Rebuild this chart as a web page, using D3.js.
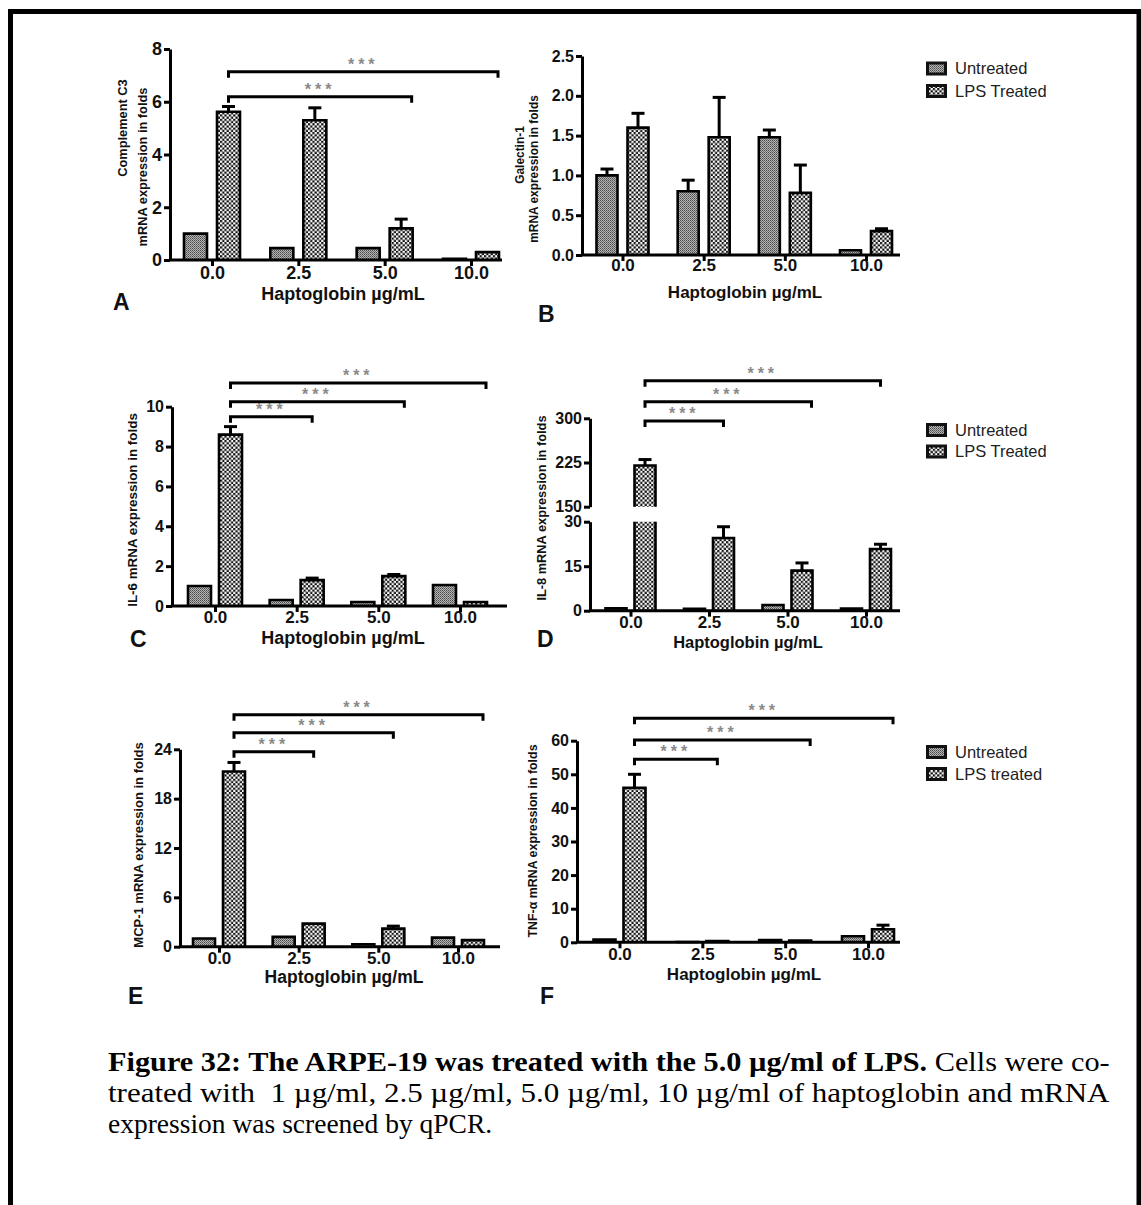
<!DOCTYPE html>
<html><head><meta charset="utf-8">
<script src="https://cdn.jsdelivr.net/npm/d3@7"></script>
<style>
html,body{margin:0;padding:0;background:#fff;}
svg{display:block;}
</style></head>
<body>
<svg id="chart" width="1141" height="1205"></svg>
<script>
// ---------------- DATA ----------------
const categories = ["0.0", "2.5", "5.0", "10.0"];
const seriesNames = ["Untreated", "LPS Treated"];
const seriesNamesF = ["Untreated", "LPS treated"];
const xTitle = "Haptoglobin \u00b5g/mL";
const sigLabel = "***";

// A: Complement C3
const c3Untreated    = [1.0, 0.45, 0.45, 0.05];
const c3UntreatedErr = [0.03, 0.02, 0.02, 0.01];
const c3Lps          = [5.62, 5.3, 1.2, 0.3];
const c3LpsErr       = [0.2, 0.47, 0.35, 0.03];
const c3Ticks        = [0, 2, 4, 6, 8];
const c3Sig          = [["0.0", "5.0", 6.19], ["0.0", "10.0", 7.14]];

// B: Galectin-1
const gal1Untreated    = [1.0, 0.8, 1.48, 0.06];
const gal1UntreatedErr = [0.08, 0.14, 0.09, 0.01];
const gal1Lps          = [1.6, 1.48, 0.78, 0.3];
const gal1LpsErr       = [0.18, 0.5, 0.35, 0.03];
const gal1Ticks        = [0, 0.5, 1.0, 1.5, 2.0, 2.5];
const gal1Sig          = [];

// C: IL-6
const il6Untreated    = [1.0, 0.3, 0.2, 1.05];
const il6UntreatedErr = [0.03, 0.03, 0.03, 0.03];
const il6Lps          = [8.6, 1.3, 1.5, 0.2];
const il6LpsErr       = [0.4, 0.1, 0.08, 0.05];
const il6Ticks        = [0, 2, 4, 6, 8, 10];
const il6Sig          = [["0.0", "2.5", 9.5], ["0.0", "5.0", 10.25], ["0.0", "10.0", 11.19]];

// D: IL-8 (broken axis)
const il8Untreated    = [0.8, 0.6, 1.9, 0.7];
const il8UntreatedErr = [0.1, 0.1, 0.2, 0.1];
const il8Lps          = [220, 24.5, 13.5, 20.8];
const il8LpsErr       = [10, 3.8, 2.6, 1.6];
const il8TicksLow     = [0, 15, 30];
const il8TicksHigh    = [150, 225, 300];
const il8Sig          = [["0.0", "2.5", 295.4], ["0.0", "5.0", 328.2], ["0.0", "10.0", 363.8]];

// E: MCP-1
const mcp1Untreated    = [1.0, 1.2, 0.3, 1.1];
const mcp1UntreatedErr = [0.05, 0.05, 0.05, 0.05];
const mcp1Lps          = [21.3, 2.8, 2.2, 0.8];
const mcp1LpsErr       = [1.1, 0.1, 0.3, 0.1];
const mcp1Ticks        = [0, 6, 12, 18, 24];
const mcp1Sig          = [["0.0", "2.5", 23.7], ["0.0", "5.0", 26.0], ["0.0", "10.0", 28.2]];

// F: TNF-alpha
const tnfUntreated    = [0.8, 0.1, 0.7, 1.8];
const tnfUntreatedErr = [0.1, 0.05, 0.1, 0.2];
const tnfLps          = [46, 0.4, 0.5, 3.9];
const tnfLpsErr       = [4, 0.1, 0.1, 1.2];
const tnfTicks        = [0, 10, 20, 30, 40, 50, 60];
const tnfSig          = [["0.0", "2.5", 54.5], ["0.0", "5.0", 60.2], ["0.0", "10.0", 66.7]];

const captionBold = "Figure 32: The ARPE-19 was treated with the 5.0 \u00b5g/ml of LPS.";
const captionLines = [
  " Cells were co-",
  "treated with  1 \u00b5g/ml, 2.5 \u00b5g/ml, 5.0 \u00b5g/ml, 10 \u00b5g/ml of haptoglobin and mRNA",
  "expression was screened by qPCR."
];

// ---------------- LAYOUT ----------------
const SANS = "'Liberation Sans', Arial, Helvetica, sans-serif";
const SERIF = "'Liberation Serif', 'Times New Roman', Times, serif";
const svg = d3.select("#chart");

// frame
svg.append("rect").attr("x", 10.5).attr("y", 11.5).attr("width", 1128.5).attr("height", 1400)
  .attr("fill", "none").attr("stroke", "#000").attr("stroke-width", 5);

// patterns
const defs = svg.append("defs");
const pU = defs.append("pattern").attr("id", "patU").attr("patternUnits", "userSpaceOnUse")
  .attr("width", 2).attr("height", 2);
pU.append("rect").attr("width", 2).attr("height", 2).attr("fill", "#b4b4b4");
pU.append("rect").attr("width", 1).attr("height", 1).attr("fill", "#4a4a4a");
pU.append("rect").attr("x", 1).attr("y", 1).attr("width", 1).attr("height", 1).attr("fill", "#6e6e6e");
const pL = defs.append("pattern").attr("id", "patL").attr("patternUnits", "userSpaceOnUse")
  .attr("width", 4.4).attr("height", 4.4);
pL.append("rect").attr("width", 4.4).attr("height", 4.4).attr("fill", "#fff");
pL.append("rect").attr("width", 2.2).attr("height", 2.2).attr("fill", "#111");
pL.append("rect").attr("x", 2.2).attr("y", 2.2).attr("width", 2.2).attr("height", 2.2).attr("fill", "#111");

const panels = [
  { letter: "A", letterX: 113, letterY: 310,
    yTitle: ["Complement C3", "mRNA expression in folds"], yTitleX: [123, 143], yTitleY: [128, 167], yTitleSize: 12.8,
    series: [[c3Untreated, c3UntreatedErr], [c3Lps, c3LpsErr]], sig: c3Sig,
    segments: [{ domain: [0, 8], range: [260, 49], ticks: c3Ticks }], fmt: d3.format("d"),
    axisX: 170, xRange: [212, 471], axisEnd: 502, barW: 23, gap: 10,
    tickSize: 18, xTickSize: 18, tickLabelY: 279, xTitleX: 343, xTitleY: 300, xTitleSize: 18,
    sigEnds: ["edge", "edge"] },
  { letter: "B", letterX: 538, letterY: 322,
    yTitle: ["Galectin-1", "mRNA expression in folds"], yTitleX: [520, 534], yTitleY: [155, 169], yTitleSize: 11.9,
    series: [[gal1Untreated, gal1UntreatedErr], [gal1Lps, gal1LpsErr]], sig: gal1Sig,
    segments: [{ domain: [0, 2.5], range: [255, 56], ticks: gal1Ticks }], fmt: d3.format(".1f"),
    axisX: 582, xRange: [622.5, 866], axisEnd: 900, barW: 21, gap: 10,
    tickSize: 16, xTickSize: 17, tickLabelY: 271, xTitleX: 745, xTitleY: 298, xTitleSize: 17,
    sigEnds: [] },
  { letter: "C", letterX: 130, letterY: 647,
    yTitle: ["IL-6 mRNA expression in folds"], yTitleX: [132], yTitleY: [510], yTitleSize: 13.4,
    series: [[il6Untreated, il6UntreatedErr], [il6Lps, il6LpsErr]], sig: il6Sig,
    segments: [{ domain: [0, 10], range: [606, 406.7], ticks: il6Ticks }], fmt: d3.format("d"),
    axisX: 172, xRange: [215, 460], axisEnd: 507, barW: 23, gap: 8,
    tickSize: 16, xTickSize: 17, tickLabelY: 623, xTitleX: 343, xTitleY: 644, xTitleSize: 18,
    sigEnds: ["center", "edge", "edge"] },
  { letter: "D", letterX: 537, letterY: 647,
    yTitle: ["IL-8 mRNA expression in folds"], yTitleX: [542], yTitleY: [508], yTitleSize: 12.8,
    series: [[il8Untreated, il8UntreatedErr], [il8Lps, il8LpsErr]], sig: il8Sig,
    segments: [{ domain: [0, 30], range: [610.7, 521.7], ticks: il8TicksLow },
               { domain: [150, 300], range: [506.7, 418.3], ticks: il8TicksHigh }], fmt: d3.format("d"),
    axisX: 590, xRange: [630.5, 866], axisEnd: 900, barW: 21, gap: 8,
    tickSize: 16, xTickSize: 17, tickLabelY: 628, xTitleX: 748, xTitleY: 648, xTitleSize: 16.5,
    sigEnds: ["center", "edge", "center"] },
  { letter: "E", letterX: 128, letterY: 1004,
    yTitle: ["MCP-1 mRNA expression in folds"], yTitleX: [138], yTitleY: [845], yTitleSize: 13,
    series: [[mcp1Untreated, mcp1UntreatedErr], [mcp1Lps, mcp1LpsErr]], sig: mcp1Sig,
    segments: [{ domain: [0, 24], range: [946.7, 749.3], ticks: mcp1Ticks }], fmt: d3.format("d"),
    axisX: 180, xRange: [219, 458], axisEnd: 500, barW: 22, gap: 8,
    tickSize: 16, xTickSize: 17, tickLabelY: 964, xTitleX: 344, xTitleY: 983, xTitleSize: 17.5,
    sigEnds: ["center", "center", "edge"] },
  { letter: "F", letterX: 540, letterY: 1004,
    yTitle: ["TNF-\u03b1 mRNA expression in folds"], yTitleX: [533], yTitleY: [841], yTitleSize: 12.4,
    series: [[tnfUntreated, tnfUntreatedErr], [tnfLps, tnfLpsErr]], sig: tnfSig,
    segments: [{ domain: [0, 60], range: [942.3, 740.7], ticks: tnfTicks }], fmt: d3.format("d"),
    axisX: 577, xRange: [619.5, 868], axisEnd: 900, barW: 22, gap: 8,
    tickSize: 16, xTickSize: 17, tickLabelY: 960, xTitleX: 744, xTitleY: 980, xTitleSize: 17,
    sigEnds: ["center", "edge", "edge"] }
];

const legends = [
  { labels: seriesNames, x: 926, y: [68.5, 91] },
  { labels: seriesNames, x: 926, y: [430, 451.5] },
  { labels: seriesNamesF, x: 926, y: [752, 774] }
];

const LW = 3;

function drawPanel(p) {
  const g = svg.append("g");
  const x = d3.scalePoint().domain(categories).range(p.xRange);
  const segs = p.segments.map(s => ({ ...s, y: d3.scaleLinear().domain(s.domain).range(s.range) }));
  const off = (p.barW + p.gap) / 2;
  const fills = ["url(#patU)", "url(#patL)"];
  const zeroY = segs[0].y(segs[0].domain[0]);

  // bars + error bars
  p.series.forEach(([vals, errs], si) => {
    const dx = si === 0 ? -off : off;
    vals.forEach((v, i) => {
      const cx = x(categories[i]) + dx;
      const x0 = cx - p.barW / 2, x1 = cx + p.barW / 2;
      segs.forEach((s) => {
        if (v <= s.domain[0]) return;
        const lo = s.domain[0], hi = Math.min(v, s.domain[1]);
        const yb = s.y(lo), yt = s.y(hi);
        const capped = v <= s.domain[1];
        g.append("rect").attr("x", x0).attr("y", yt).attr("width", p.barW).attr("height", yb - yt)
          .attr("fill", fills[si]);
        const path = d3.path();
        path.moveTo(x0, yb);
        path.lineTo(x0, yt);
        if (capped) path.lineTo(x1, yt); else path.moveTo(x1, yt);
        path.lineTo(x1, yb);
        g.append("path").attr("d", path.toString()).attr("fill", "none")
          .attr("stroke", "#000").attr("stroke-width", 2.6).attr("stroke-linejoin", "miter");
        if (capped) {
          const ye = s.y(v + errs[i]);
          if (yt - ye > 1) {
            g.append("line").attr("x1", cx).attr("x2", cx).attr("y1", yt).attr("y2", ye)
              .attr("stroke", "#000").attr("stroke-width", LW);
            g.append("line").attr("x1", cx - 6.5).attr("x2", cx + 6.5).attr("y1", ye).attr("y2", ye)
              .attr("stroke", "#000").attr("stroke-width", LW);
          }
        }
      });
    });
  });

  // y axis segments
  segs.forEach(s => {
    const ax = g.append("g").attr("transform", `translate(${p.axisX},0)`)
      .call(d3.axisLeft(s.y).tickValues(s.ticks).tickSize(6).tickSizeOuter(0).tickFormat(p.fmt).tickPadding(2));
    ax.select(".domain").attr("stroke-width", LW).attr("stroke", "#000");
    ax.selectAll(".tick line").attr("stroke-width", LW).attr("stroke", "#000");
    ax.selectAll(".tick text").attr("font-family", SANS).attr("font-weight", "bold")
      .attr("font-size", p.tickSize).attr("fill", "#111");
  });

  // x axis
  g.append("line").attr("x1", p.axisX - 1).attr("x2", p.axisEnd).attr("y1", zeroY).attr("y2", zeroY)
    .attr("stroke", "#000").attr("stroke-width", LW);
  const xa = g.append("g").attr("transform", `translate(0,${zeroY})`)
    .call(d3.axisBottom(x).tickSize(6).tickSizeOuter(0));
  xa.select(".domain").remove();
  xa.selectAll(".tick line").attr("stroke-width", LW).attr("stroke", "#000");
  xa.selectAll(".tick text").attr("font-family", SANS).attr("font-weight", "bold")
    .attr("font-size", p.xTickSize).attr("fill", "#111")
    .attr("dy", null).attr("y", p.tickLabelY - zeroY);

  // x title
  g.append("text").attr("x", p.xTitleX).attr("y", p.xTitleY).attr("text-anchor", "middle")
    .attr("font-family", SANS).attr("font-weight", "bold").attr("font-size", p.xTitleSize)
    .attr("fill", "#111").text(xTitle);

  // y title
  p.yTitle.forEach((t, i) => {
    g.append("text").attr("transform", `translate(${p.yTitleX[i]},${p.yTitleY[i]}) rotate(-90)`)
      .attr("text-anchor", "middle").attr("dy", "0.35em")
      .attr("font-family", SANS).attr("font-weight", "bold").attr("font-size", p.yTitleSize)
      .attr("fill", "#111").text(t);
  });

  // panel letter
  g.append("text").attr("x", p.letterX).attr("y", p.letterY)
    .attr("font-family", SANS).attr("font-weight", "bold").attr("font-size", 23)
    .attr("fill", "#111").text(p.letter);

  // significance brackets
  const top = segs[segs.length - 1];
  p.sig.forEach(([from, to, lvl], i) => {
    const xl = x(from) + off;
    const xr = x(to) + off + (p.sigEnds[i] === "edge" ? p.barW / 2 - 1 : 0);
    const yy = top.y(lvl);
    g.append("path").attr("d", `M${xl},${yy + 6}V${yy}H${xr}V${yy + 6}`)
      .attr("fill", "none").attr("stroke", "#000").attr("stroke-width", LW);
    g.append("text").attr("x", (xl + xr) / 2).attr("y", yy - 2).attr("text-anchor", "middle")
      .attr("font-family", SANS).attr("font-weight", "bold").attr("font-size", 16)
      .attr("letter-spacing", 4).attr("fill", "#8a8a8a").text(sigLabel);
  });
}

panels.forEach(drawPanel);

// legends
legends.forEach(l => {
  const fills = ["url(#patU)", "url(#patL)"];
  l.labels.forEach((lab, i) => {
    const cy = l.y[i];
    svg.append("rect").attr("x", l.x).attr("y", cy - 7).attr("width", 21).attr("height", 14).attr("fill", "#111");
    svg.append("rect").attr("x", l.x + 3).attr("y", cy - 4).attr("width", 15).attr("height", 8).attr("fill", fills[i]);
    svg.append("text").attr("x", l.x + 29).attr("y", cy).attr("dy", "0.36em")
      .attr("font-family", SANS).attr("font-size", 16.5).attr("fill", "#222").text(lab);
  });
});

// caption
const capX = 108;
const capBase = [1071, 1102, 1133];
const capWidths = [1002, 1002, null];
const capFS = 27.5;
captionLines.forEach((line, i) => {
  const t = svg.append("text").attr("x", 0).attr("y", 0)
    .attr("font-family", SERIF).attr("font-size", capFS).attr("fill", "#000")
    .style("white-space", "pre");
  if (i === 0) {
    t.append("tspan").attr("font-weight", "bold").text(captionBold);
    t.append("tspan").text(line);
  } else {
    t.append("tspan").text(line);
  }
  const w = t.node().getComputedTextLength();
  const sx = capWidths[i] ? capWidths[i] / w : 1;
  t.attr("transform", `translate(${capX},${capBase[i]}) scale(${sx},1)`);
});
</script>
</body></html>
